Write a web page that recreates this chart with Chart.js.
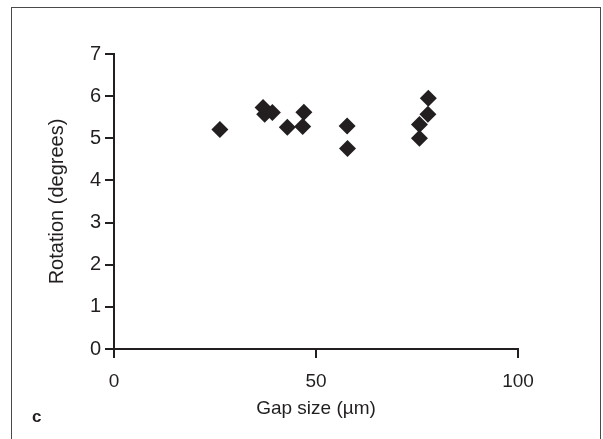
<!DOCTYPE html>
<html>
<head>
<meta charset="utf-8">
<script src="https://cdn.jsdelivr.net/npm/chart.js@4/dist/chart.umd.min.js"></script>
<style>
  body { margin: 0; background: #fff; }
  #wrap { position: relative; width: 603px; height: 439px; overflow: hidden; }
  #frame { position: absolute; left: 11px; top: 7px; width: 590px; height: 450px;
           border: 1.5px solid #4a4a4a; box-sizing: border-box; }
  canvas { position: absolute; left: 0; top: 0; }
</style>
</head>
<body>
<div id="wrap">
  <div id="frame"></div>
  <canvas id="gapChart" width="603" height="439"></canvas>
</div>
<script>
// gap size (µm) vs rotation (degrees)
const gapSize  = [26.2, 36.9, 37.3, 39.2, 42.9, 47.0, 46.7, 57.7, 57.8, 77.8, 77.7, 75.6, 75.6];
const rotation = [5.21, 5.73, 5.57, 5.61, 5.26, 5.62, 5.28, 5.29, 4.76, 5.95, 5.57, 5.33, 5.00];

const xTicks = [0, 50, 100];
const yTicks = [0, 1, 2, 3, 4, 5, 6, 7];

const ink = '#231f20';
const fontFamily = '"Liberation Sans", Arial, sans-serif';

// the small panel letter in the bottom left corner
const panelLetter = {
    id: 'panelLetter',
    afterDraw(chart) {
        const ctx = chart.ctx;
        ctx.save();
        ctx.fillStyle = ink;
        ctx.font = 'bold 17px ' + fontFamily;
        ctx.textBaseline = 'alphabetic';
        ctx.fillText('c', 32, 422);
        ctx.restore();
    }
};

const points = gapSize.map((g, i) => ({ x: g, y: rotation[i] }));

new Chart(document.getElementById('gapChart'), {
    type: 'scatter',
    data: {
        datasets: [{
            data: points,
            pointStyle: 'rectRot',
            pointRadius: 8.5,
            pointHoverRadius: 8.5,
            backgroundColor: ink,
            borderColor: ink,
            borderWidth: 0
        }]
    },
    options: {
        responsive: false,
        animation: false,
        layout: { padding: { top: 54, right: 85, left: 0, bottom: 0 } },
        plugins: {
            legend: { display: false },
            tooltip: { enabled: false }
        },
        scales: {
            x: {
                type: 'linear',
                min: 0,
                max: 100,
                afterBuildTicks(scale) { scale.ticks = xTicks.map(v => ({ value: v })); },
                afterFit(scale) { scale.height = 90; },
                grid: { drawOnChartArea: false, drawTicks: true, tickLength: 9, color: ink, lineWidth: 2 },
                border: { display: true, color: ink, width: 2 },
                ticks: { color: ink, font: { family: fontFamily, size: 19 }, padding: 12, maxRotation: 0 },
                title: {
                    display: true,
                    text: 'Gap size (µm)',
                    color: ink,
                    font: { family: fontFamily, size: 19 },
                    padding: { top: 0, bottom: 19 }
                }
            },
            y: {
                type: 'linear',
                min: 0,
                max: 7,
                afterBuildTicks(scale) { scale.ticks = yTicks.map(v => ({ value: v })); },
                afterFit(scale) { scale.width = 114; },
                grid: { drawOnChartArea: false, drawTicks: true, tickLength: 9, color: ink, lineWidth: 2 },
                border: { display: true, color: ink, width: 2 },
                ticks: { color: ink, font: { family: fontFamily, size: 20 }, padding: 4 },
                title: {
                    display: true,
                    text: 'Rotation (degrees)',
                    color: ink,
                    font: { family: fontFamily, size: 20 },
                    padding: { top: 45, bottom: 0 }
                }
            }
        }
    },
    plugins: [panelLetter]
});
</script>
</body>
</html>
